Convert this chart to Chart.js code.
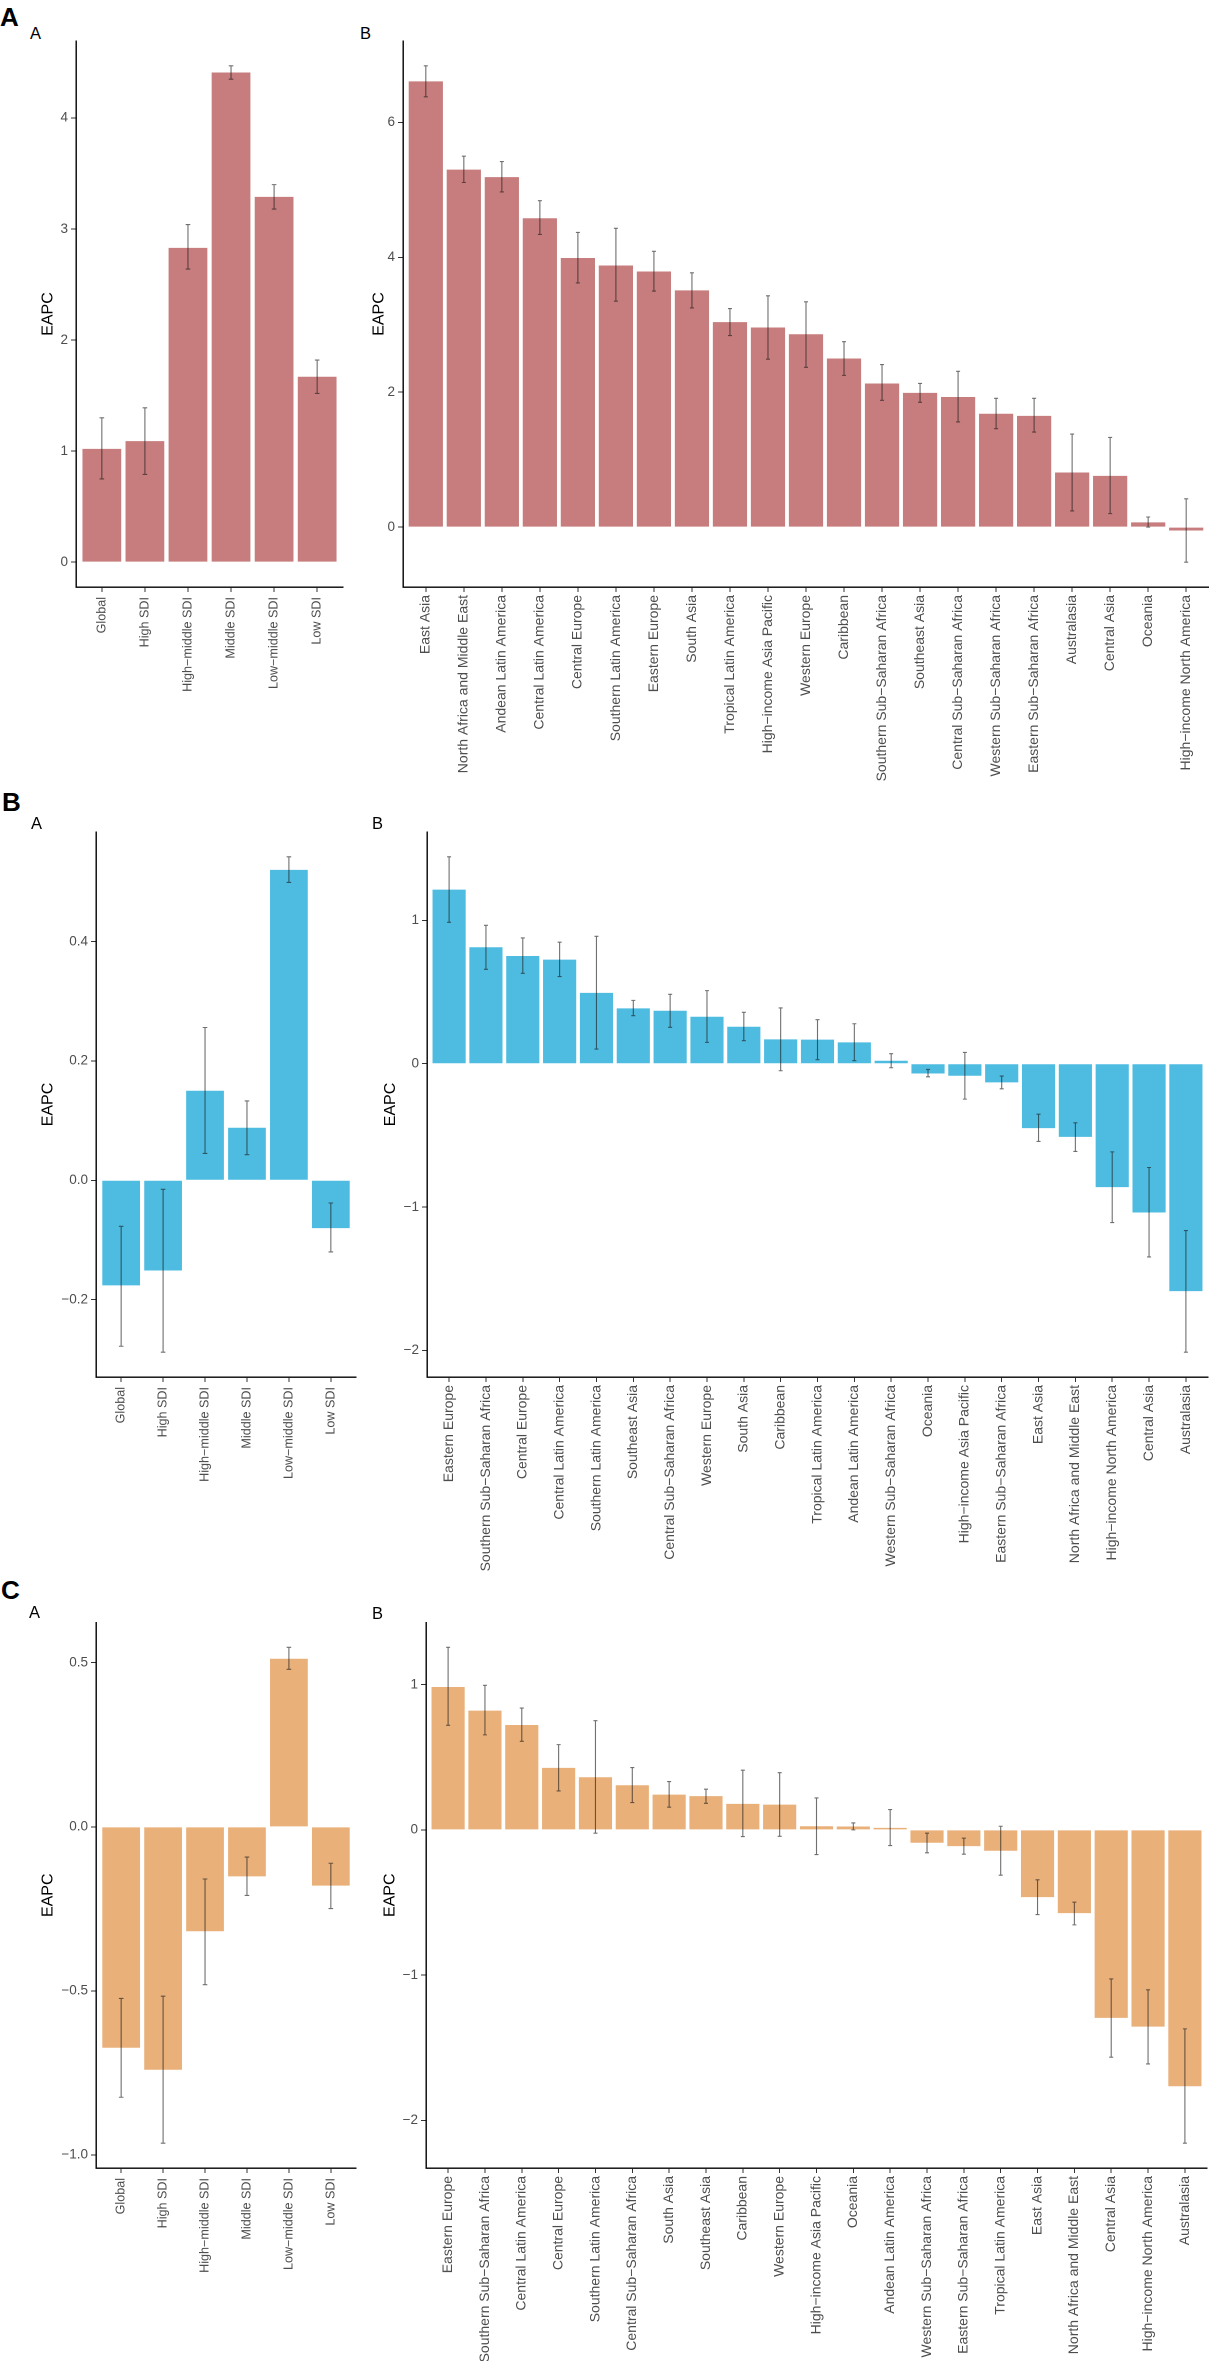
<!DOCTYPE html>
<html>
<head>
<meta charset="utf-8">
<script src="https://cdn.jsdelivr.net/npm/chart.js@4.4.1/dist/chart.umd.min.js"></script>
<style>
  html, body { margin: 0; padding: 0; background: #fff; }
  body { position: relative; width: 1209px; height: 2361px; overflow: hidden; }
  canvas { position: absolute; }
  .lbl { position: absolute; font-family: 'Liberation Sans', Arial, sans-serif; line-height: 1; color: #000; white-space: nowrap; }
  .big { font-size: 26px; font-weight: bold; }
  .sub { font-size: 16.5px; }
</style>
</head>
<body>
<div class="lbl big" style="left:0px;top:4px">A</div>
<div class="lbl sub" style="left:30px;top:25px">A</div>
<div class="lbl sub" style="left:360px;top:25px">B</div>
<canvas id="aLeft"></canvas>
<canvas id="aRight"></canvas>

<div class="lbl big" style="left:2px;top:789px">B</div>
<div class="lbl sub" style="left:31px;top:815px">A</div>
<div class="lbl sub" style="left:372px;top:815px">B</div>
<canvas id="bLeft"></canvas>
<canvas id="bRight"></canvas>

<div class="lbl big" style="left:1px;top:1577px">C</div>
<div class="lbl sub" style="left:29px;top:1604px">A</div>
<div class="lbl sub" style="left:372px;top:1605px">B</div>
<canvas id="cLeft"></canvas>
<canvas id="cRight"></canvas>

<script>
// ---- data ----
const sdiGroups = ['Global', 'High SDI', 'High\u2212middle SDI', 'Middle SDI', 'Low\u2212middle SDI', 'Low SDI'];

// A: SDI groups
const aSdiEapc  = [1.02, 1.09, 2.83, 4.41, 3.29, 1.67];
const aSdiLower = [0.75, 0.79, 2.64, 4.35, 3.18, 1.52];
const aSdiUpper = [1.30, 1.39, 3.04, 4.47, 3.40, 1.82];

// A: regions
const aRegions = ['East Asia', 'North Africa and Middle East', 'Andean Latin America', 'Central Latin America',
  'Central Europe', 'Southern Latin America', 'Eastern Europe', 'South Asia', 'Tropical Latin America',
  'High\u2212income Asia Pacific', 'Western Europe', 'Caribbean', 'Southern Sub\u2212Saharan Africa', 'Southeast Asia',
  'Central Sub\u2212Saharan Africa', 'Western Sub\u2212Saharan Africa', 'Eastern Sub\u2212Saharan Africa', 'Australasia',
  'Central Asia', 'Oceania', 'High\u2212income North America'];
const aRegEapc  = [6.61, 5.30, 5.19, 4.58, 3.99, 3.88, 3.79, 3.51, 3.04, 2.96, 2.86, 2.50, 2.13, 1.99, 1.93, 1.68, 1.65, 0.81, 0.76, 0.07, -0.05];
const aRegLower = [6.38, 5.11, 4.97, 4.34, 3.62, 3.35, 3.50, 3.25, 2.84, 2.49, 2.37, 2.25, 1.88, 1.85, 1.56, 1.46, 1.41, 0.24, 0.20, 0.00, -0.52];
const aRegUpper = [6.84, 5.50, 5.42, 4.84, 4.37, 4.43, 4.09, 3.77, 3.24, 3.43, 3.34, 2.75, 2.41, 2.13, 2.31, 1.91, 1.91, 1.38, 1.33, 0.15, 0.42];

// B: SDI groups
const bSdiEapc  = [-0.176, -0.151, 0.150, 0.088, 0.520, -0.080];
const bSdiLower = [-0.278, -0.288, 0.045, 0.043, 0.499, -0.120];
const bSdiUpper = [-0.077, -0.015, 0.256, 0.133, 0.542, -0.038];

// B: regions
const bRegions = ['Eastern Europe', 'Southern Sub\u2212Saharan Africa', 'Central Europe', 'Central Latin America',
  'Southern Latin America', 'Southeast Asia', 'Central Sub\u2212Saharan Africa', 'Western Europe', 'South Asia',
  'Caribbean', 'Tropical Latin America', 'Andean Latin America', 'Western Sub\u2212Saharan Africa', 'Oceania',
  'High\u2212income Asia Pacific', 'Eastern Sub\u2212Saharan Africa', 'East Asia', 'North Africa and Middle East',
  'High\u2212income North America', 'Central Asia', 'Australasia'];
const bRegEapc  = [1.215, 0.813, 0.752, 0.726, 0.494, 0.386, 0.370, 0.328, 0.258, 0.170, 0.168, 0.149, 0.021, -0.068, -0.084, -0.130, -0.449, -0.510, -0.861, -1.038, -1.587];
const bRegLower = [0.987, 0.659, 0.631, 0.608, 0.102, 0.335, 0.254, 0.149, 0.161, -0.049, 0.028, 0.021, -0.028, -0.091, -0.247, -0.175, -0.542, -0.612, -1.108, -1.348, -2.013];
const bRegUpper = [1.444, 0.966, 0.878, 0.848, 0.889, 0.442, 0.484, 0.510, 0.359, 0.389, 0.307, 0.279, 0.070, -0.040, 0.079, -0.086, -0.352, -0.412, -0.615, -0.724, -1.164];

// C: SDI groups
const cSdiEapc  = [-0.673, -0.740, -0.318, -0.151, 0.512, -0.179];
const cSdiLower = [-0.824, -0.964, -0.481, -0.209, 0.480, -0.249];
const cSdiUpper = [-0.523, -0.516, -0.159, -0.092, 0.547, -0.111];

// C: regions
const cRegions = ['Eastern Europe', 'Southern Sub\u2212Saharan Africa', 'Central Latin America', 'Central Europe',
  'Southern Latin America', 'Central Sub\u2212Saharan Africa', 'South Asia', 'Southeast Asia', 'Caribbean',
  'Western Europe', 'High\u2212income Asia Pacific', 'Oceania', 'Andean Latin America', 'Western Sub\u2212Saharan Africa',
  'Eastern Sub\u2212Saharan Africa', 'Tropical Latin America', 'East Asia', 'North Africa and Middle East',
  'Central Asia', 'High\u2212income North America', 'Australasia'];
const cRegEapc  = [0.984, 0.821, 0.722, 0.427, 0.362, 0.307, 0.243, 0.232, 0.179, 0.174, 0.025, 0.023, 0.014, -0.089, -0.112, -0.144, -0.463, -0.573, -1.294, -1.354, -1.765];
const cRegLower = [0.720, 0.654, 0.610, 0.268, -0.023, 0.188, 0.156, 0.183, -0.046, -0.044, -0.170, 0.000, -0.108, -0.158, -0.167, -0.312, -0.583, -0.654, -1.565, -1.611, -2.157];
const cRegUpper = [1.257, 0.995, 0.839, 0.587, 0.752, 0.429, 0.333, 0.280, 0.411, 0.394, 0.220, 0.048, 0.140, -0.023, -0.057, 0.025, -0.344, -0.498, -1.026, -1.101, -1.370];

// y tick values
const aSdiTicks = [0, 1, 2, 3, 4];
const aRegTicks = [0, 2, 4, 6];
const bSdiTicks = [-0.2, 0, 0.2, 0.4];
const bRegTicks = [-2, -1, 0, 1];
const cSdiTicks = [-1, -0.5, 0, 0.5];
const cRegTicks = [-2, -1, 0, 1];

const FONT = "'Liberation Sans', Arial, sans-serif";
const RED = '#C77D7D', BLUE = '#4EBCE0', ORANGE = '#E9B07A';

const fmtInt = v => (v < 0 ? '\u2212' : '') + Math.abs(v).toFixed(0);
const fmtOne = v => (v < 0 ? '\u2212' : '') + Math.abs(v).toFixed(1);

// error bars drawn on top of the bars with the chart's own scales
const errorBars = {
  id: 'errorBars',
  afterDatasetsDraw(chart, args, opts) {
    const { ctx, scales: { x, y } } = chart;
    ctx.save();
    ctx.strokeStyle = opts.color;
    ctx.lineWidth = opts.width;
    opts.lower.forEach((lo, i) => {
      const px = x.getPixelForValue(i);
      const yTop = y.getPixelForValue(opts.upper[i]);
      const yBot = y.getPixelForValue(lo);
      ctx.beginPath();
      ctx.moveTo(px, yTop); ctx.lineTo(px, yBot);
      ctx.moveTo(px - opts.cap, yTop); ctx.lineTo(px + opts.cap, yTop);
      ctx.moveTo(px - opts.cap, yBot); ctx.lineTo(px + opts.cap, yBot);
      ctx.stroke();
    });
    ctx.restore();
  }
};

function drawPanel(id, g, cats, vals, lower, upper, yTicks, fmt, color) {
  const el = document.getElementById(id);
  el.width = g.w; el.height = g.h;
  el.style.left = g.left + 'px'; el.style.top = g.top + 'px';

  // ggplot style: range of bars + intervals, 5% expansion
  const lo = Math.min(0, ...lower), hi = Math.max(0, ...upper);
  const pad = (hi - lo) * 0.05;

  new Chart(el, {
    type: 'bar',
    data: {
      datasets: [{
        data: vals.map((v, i) => ({ x: i, y: v })),
        backgroundColor: color,
        borderWidth: 0,
        barPercentage: 0.9,
        categoryPercentage: 1
      }]
    },
    options: {
      responsive: false,
      animation: false,
      devicePixelRatio: 2,
      layout: { padding: { left: 0, right: g.padRight, top: g.plotTop, bottom: 0 } },
      plugins: {
        legend: { display: false },
        tooltip: { enabled: false },
        errorBars: { lower, upper, cap: g.cap, width: 1.1, color: 'rgba(25,25,25,0.62)' }
      },
      scales: {
        x: {
          type: 'linear',
          min: -0.6,
          max: cats.length - 0.4,
          offset: false,
          grid: { offset: false, drawOnChartArea: false, tickLength: 5, color: '#333', lineWidth: 1 },
          border: { color: '#000', width: 1.4 },
          afterBuildTicks: s => { s.ticks = cats.map((c, i) => ({ value: i })); },
          afterFit: s => { s.height = g.h - g.plotBottom; },
          ticks: {
            autoSkip: false, minRotation: 90, maxRotation: 90,
            padding: g.xPad, color: '#4D4D4D',
            font: { family: FONT, size: g.xFont },
            callback: v => cats[v]
          }
        },
        y: {
          type: 'linear',
          min: lo - pad,
          max: hi + pad,
          grid: { drawOnChartArea: false, tickLength: 5, color: '#333', lineWidth: 1 },
          border: { color: '#000', width: 1.4 },
          afterBuildTicks: s => { s.ticks = yTicks.map(v => ({ value: v })); },
          afterFit: s => { s.width = g.yW; },
          ticks: { padding: 3, color: '#4D4D4D', font: { family: FONT, size: 13.5 }, callback: v => fmt(v) },
          title: { display: true, text: 'EAPC', color: '#000', font: { family: FONT, size: 16 }, padding: { top: g.titlePad, bottom: 0 } }
        }
      }
    },
    plugins: [errorBars]
  });
}

// canvas boxes and plot edges, in page pixels relative to each canvas
const leftA  = { left: 0,   top: 0,    w: 370, h: 780, yW: 76, padRight: 27, plotTop: 41,   plotBottom: 587, xPad: 5, xFont: 12.6, cap: 2.3, titlePad: 38.4 };
const rightA = { left: 340, top: 0,    w: 869, h: 800, yW: 63, padRight: 0,  plotTop: 41,   plotBottom: 587, xPad: 3, xFont: 14,   cap: 2,   titlePad: 29.4 };
const leftB  = { left: 0,   top: 780,  w: 370, h: 780, yW: 96, padRight: 14, plotTop: 52,   plotBottom: 597, xPad: 5, xFont: 12.6, cap: 2.3, titlePad: 38.4 };
const rightB = { left: 340, top: 780,  w: 869, h: 800, yW: 87, padRight: 1,  plotTop: 52,   plotBottom: 597, xPad: 3, xFont: 14,   cap: 2,   titlePad: 41 };
const leftC  = { left: 0,   top: 1560, w: 370, h: 801, yW: 96, padRight: 14, plotTop: 62.5, plotBottom: 608, xPad: 5, xFont: 12.6, cap: 2.3, titlePad: 38.4 };
const rightC = { left: 340, top: 1560, w: 869, h: 801, yW: 86, padRight: 2,  plotTop: 62.5, plotBottom: 608, xPad: 3, xFont: 14,   cap: 2,   titlePad: 40.4 };

drawPanel('aLeft',  leftA,  sdiGroups, aSdiEapc, aSdiLower, aSdiUpper, aSdiTicks, fmtInt, RED);
drawPanel('aRight', rightA, aRegions,  aRegEapc, aRegLower, aRegUpper, aRegTicks, fmtInt, RED);
drawPanel('bLeft',  leftB,  sdiGroups, bSdiEapc, bSdiLower, bSdiUpper, bSdiTicks, fmtOne, BLUE);
drawPanel('bRight', rightB, bRegions,  bRegEapc, bRegLower, bRegUpper, bRegTicks, fmtInt, BLUE);
drawPanel('cLeft',  leftC,  sdiGroups, cSdiEapc, cSdiLower, cSdiUpper, cSdiTicks, fmtOne, ORANGE);
drawPanel('cRight', rightC, cRegions,  cRegEapc, cRegLower, cRegUpper, cRegTicks, fmtInt, ORANGE);
</script>
</body>
</html>
